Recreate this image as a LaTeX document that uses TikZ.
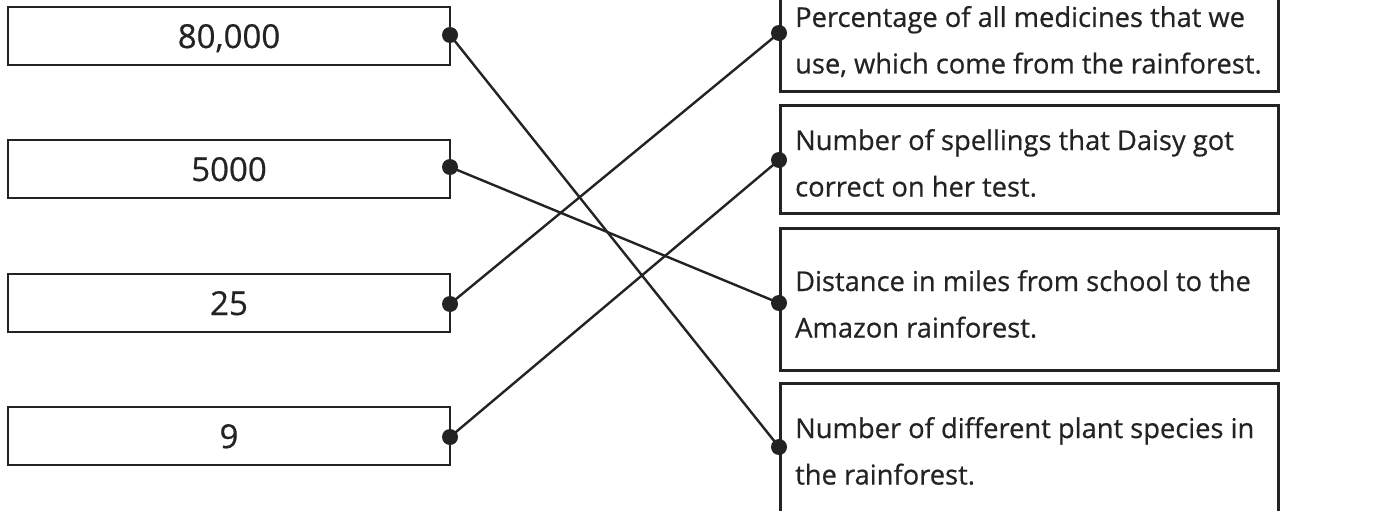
\documentclass[tikz,border=0pt]{standalone}
\usepackage{fontspec}
\setmainfont{Open Sans}[FakeBold=0.6, AutoFakeBold=0.6]
\definecolor{ink}{HTML}{232323}
\begin{document}
\begin{tikzpicture}[x=1pt,y=-1pt,
  numbox/.style={draw=ink, line width=2.6pt, minimum width=442pt, minimum height=58pt, inner sep=0pt, text height=24pt, text depth=0pt, font=\fontsize{33}{38}\selectfont\bfseries, text=ink},
  descbox/.style={draw=ink, line width=2.6pt, anchor=north west, inner sep=0pt, minimum width=498pt},
  desctext/.style={anchor=west, inner sep=0pt, align=left, text=ink, font=\fontsize{27.3}{46.5}\selectfont\bfseries},
  link/.style={draw=ink, line width=2.4pt},
  dot/.style={circle, fill=ink, inner sep=0pt, minimum size=16pt}]
\useasboundingbox (0,0) rectangle (1382,511);
\clip (0,0) rectangle (1382,511);
% left boxes
\node[numbox] (n1) at (229,36) {80,000};
\node[numbox] (n2) at (229,169) {5000};
\node[numbox] (n3) at (229,303) {25};
\node[numbox] (n4) at (229,436) {9};
% right boxes
\node[descbox, minimum height=102pt] (rA) at (779,-12) {};
\node[descbox, minimum height=108pt] (rB) at (779,104) {};
\node[descbox, minimum height=142pt] (rC) at (779,227) {};
\node[descbox, minimum height=148pt] (rD) at (779,382) {};
\node[desctext] (tA) at (795,41.5) {Percentage of all medicines that we\\use, which come from the rainforest.};
\node[desctext] (tB) at (795,163) {Number of spellings that Daisy got\\correct on her test.};
\node[desctext] (tC) at (795,304) {Distance in miles from school to the\\Amazon rainforest.};
\node[desctext] (tD) at (795,451) {Number of different plant species in\\the rainforest.};
% dots
\node[dot] (d1) at (450,35) {};
\node[dot] (d2) at (450,167) {};
\node[dot] (d3) at (450,304) {};
\node[dot] (d4) at (450,437) {};
\node[dot] (dA) at (779,33) {};
\node[dot] (dB) at (779,160) {};
\node[dot] (dC) at (779,303) {};
\node[dot] (dD) at (779,447) {};
% connectors
\draw[link] (d1.center) -- (dD.center);
\draw[link] (d2.center) -- (dC.center);
\draw[link] (d3.center) -- (dA.center);
\draw[link] (d4.center) -- (dB.center);
\end{tikzpicture}
\end{document}
